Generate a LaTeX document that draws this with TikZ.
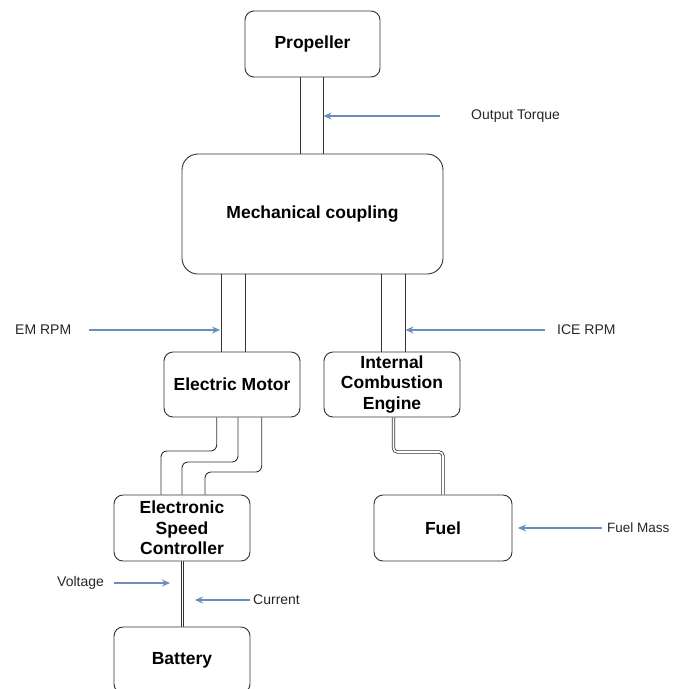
\documentclass[tikz,border=0pt]{standalone}
\usepackage{fontspec}
\setmainfont{Liberation Sans}
\usetikzlibrary{arrows.meta,calc}
\definecolor{arrblue}{HTML}{6C8EBF}
\definecolor{edge}{HTML}{333333}
\begin{document}
\begin{tikzpicture}[x=1pt,y=-1pt,
  box/.style={draw=edge,line width=0.9pt,rounded corners=9pt,fill=white,align=center,
    font=\fontsize{17.5}{20.5}\selectfont\bfseries,inner sep=0pt},
  shaft/.style={draw=edge,line width=0.9pt},
  wire/.style={draw=edge,line width=0.9pt,rounded corners=6pt},
  dbl/.style={draw=edge,line width=0.8pt,double=white,double distance=1.6pt,rounded corners=4pt},
  sig/.style={draw=arrblue,line width=1.1pt,-{Stealth[length=8pt,width=7pt]}},
  lbl/.style={font=\fontsize{14}{16}\selectfont,inner sep=0pt,anchor=west,text=black!85}]
\useasboundingbox (0,0) rectangle (673,689);
% boxes
\node[box,minimum width=135pt,minimum height=66pt] (prop) at (312.5,44) {\raisebox{-2pt}{Propeller}};
\node[box,minimum width=261pt,minimum height=120pt,rounded corners=16pt] (mech) at (312.5,214) {\raisebox{-2pt}{Mechanical coupling}};
\node[box,minimum width=136pt,minimum height=65pt] (em) at (232,384.5) {Electric Motor};
\node[box,minimum width=136pt,minimum height=65pt] (ice) at (392,384.5) {Internal\\Combustion\\Engine};
\node[box,minimum width=136pt,minimum height=66pt] (esc) at (182,528) {Electronic\\Speed\\Controller};
\node[box,minimum width=138pt,minimum height=66pt] (fuel) at (443,528) {Fuel};
\node[box,minimum width=136pt,minimum height=66pt] (bat) at (182,660) {\raisebox{-1pt}{Battery}};
% labels
\node[lbl] (torque) at (471,116) {Output Torque};
\node[lbl] (emrpm) at (15,330) {EM RPM};
\node[lbl] (icerpm) at (557,330) {ICE RPM};
\node[lbl,font=\fontsize{13.5}{16}\selectfont] (fmass) at (607,528) {Fuel Mass};
\node[lbl] (volt) at (57,583) {Voltage};
\node[lbl] (curr) at (253,600) {Current};
% shafts
\draw[shaft] ([xshift=-12.5pt]prop.south) -- ([xshift=-12.5pt]prop.south |- mech.north);
\draw[shaft] ([xshift=10.5pt]prop.south) -- ([xshift=10.5pt]prop.south |- mech.north);
\draw[shaft] ([xshift=-11pt]em.north) -- ([xshift=-11pt]em.north |- mech.south);
\draw[shaft] ([xshift=13pt]em.north) -- ([xshift=13pt]em.north |- mech.south);
\draw[shaft] ([xshift=-11pt]ice.north) -- ([xshift=-11pt]ice.north |- mech.south);
\draw[shaft] ([xshift=13pt]ice.north) -- ([xshift=13pt]ice.north |- mech.south);
% wires EM -> ESC
\coordinate (w1) at ([xshift=-15.3pt]em.south);
\coordinate (w2) at ([xshift=6pt]em.south);
\coordinate (w3) at ([xshift=29.7pt]em.south);
\draw[wire] (w1) -- (w1 |- 0,451) -| ([xshift=-21pt]esc.north);
\draw[wire] (w2) -- (w2 |- 0,462) -| (esc.north);
\draw[wire] (w3) -- (w3 |- 0,472) -| ([xshift=23pt]esc.north);
% double connectors
\coordinate (f1) at ([xshift=1.5pt]ice.south);
\draw[dbl] (f1) -- (f1 |- 0,452) -| (fuel.north);
\draw[dbl] ([xshift=0.5pt]esc.south) -- ([xshift=0.5pt]esc.south |- bat.north);
% signal arrows
\coordinate (tq) at (323.5,116);
\coordinate (er) at (220,330);
\coordinate (ir) at (405.5,330);
\coordinate (vt) at (170,583);
\coordinate (ct) at (195,600);
\coordinate (fm) at (518,528);
\draw[sig] ([xshift=-31pt]torque.west) -- (tq);
\draw[sig] ([xshift=18pt]emrpm.east) -- (er);
\draw[sig] ([xshift=-12pt]icerpm.west) -- (ir);
\draw[sig] (602,528) -- (fm);
\draw[sig] (114,583) -- (vt);
\draw[sig] ([xshift=-3pt]curr.west) -- (ct);
\end{tikzpicture}
\end{document}
